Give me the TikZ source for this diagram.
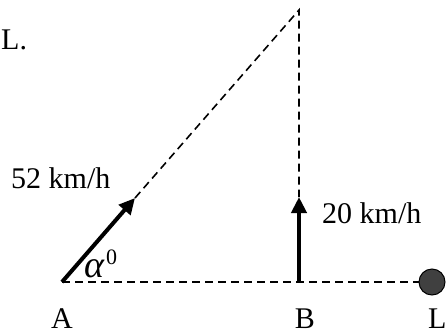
\documentclass[tikz,border=0pt]{standalone}
\usepackage{fontspec}
\setmainfont{Liberation Serif}
\usetikzlibrary{arrows.meta}
\begin{document}
\begin{tikzpicture}[x=1pt,y=-1pt,
  dashline/.style={line width=1.6pt, dash pattern=on 8pt off 5pt},
  vel/.style={line width=4pt, -{Triangle[length=16pt,width=15pt]}},
  lbl/.style={inner sep=0pt, font=\fontsize{30}{33}\selectfont}]
\useasboundingbox (0,0) rectangle (447,335);
\clip (0,0) rectangle (447,335);
\coordinate (A) at (62,282);
\coordinate (B) at (299,282);
\coordinate (P) at (299,10);
\coordinate (TA) at (135,198);
\coordinate (TB) at (299,197);
\node[circle, draw, fill=black!75, minimum size=26pt, inner sep=0pt, line width=1pt] (Lc) at (432,282) {};
\draw[dashline] (A) -- (Lc.west);
\draw[dashline] (TA) -- (P) -- (TB);
\draw[vel] (A) -- (TA);
\draw[vel] (B) -- (TB);
\node[lbl, anchor=base west] (v1) at (11,188) {52 km/h};
\node[lbl, anchor=base west] (v2) at (322,223) {20 km/h};
\node[lbl, anchor=base west] (al) at (84,277) {\fontsize{38}{40}\selectfont\itshape α\kern2pt\raisebox{13pt}{\upshape\fontsize{22}{24}\selectfont 0}};
\node[lbl, anchor=base] (lA) at (62,328) {A};
\node[lbl, anchor=base] (lB) at (305,328) {B};
\node[lbl, anchor=base west] (lL) at (428,328) {L};
\node[lbl, anchor=base west] (top) at (1,49) {L.};
\end{tikzpicture}
\end{document}
